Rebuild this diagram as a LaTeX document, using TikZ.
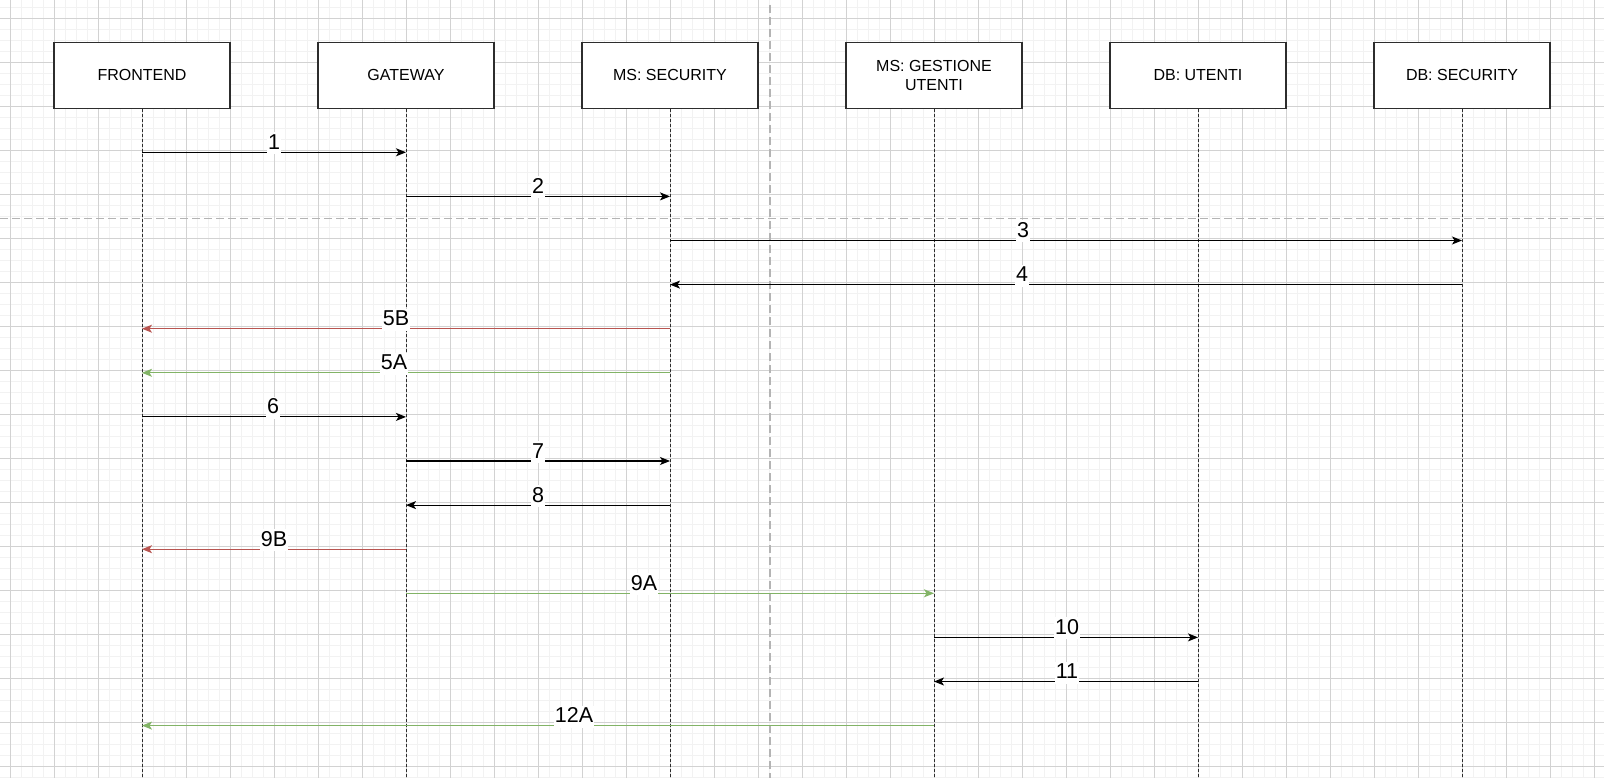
\documentclass[tikz,border=0pt]{standalone}
\usepackage{fontspec}
\setmainfont{Liberation Sans}
\usetikzlibrary{arrows.meta}
\definecolor{gmin}{RGB}{242,242,242}
\definecolor{gmaj}{RGB}{210,210,210}
\definecolor{sepc}{RGB}{180,180,180}
\definecolor{redl}{RGB}{184,84,80}
\definecolor{greenl}{RGB}{130,179,102}
\definecolor{boxl}{RGB}{45,45,45}
\begin{document}
\begin{tikzpicture}[x=1pt,y=-1pt,
  actor/.style={draw=boxl, line width=1.2pt, fill=white, minimum width=176pt, minimum height=66pt, inner sep=0pt, align=center, font=\fontsize{16}{18.4}\selectfont},
  life/.style={draw=boxl, line width=1pt, dash pattern=on 3pt off 2pt},
  msgarrow/.style={line width=1.1pt, -{Stealth[length=10pt,width=8pt,inset=2.5pt]}},
  lbl/.style={fill=white, inner xsep=1pt, inner ysep=0pt, text height=17pt, text depth=5pt, anchor=base, font=\fontsize{21.5}{24}\selectfont},
  sepline/.style={draw=sepc, line width=1.5pt, dash pattern=on 8pt off 4pt},
]
\fill[white] (0,0) rectangle (1604,778);
\useasboundingbox (0,0) rectangle (1604,778);
\begin{scope}
\clip (0,0) rectangle (1604,778);
\foreach \i in {0,...,146} \draw[gmin, line width=1pt] ({-1+11*\i},0) -- ++(0,778);
\foreach \i in {0,...,70} \draw[gmin, line width=1pt] (0,{7.3+11*\i}) -- ++(1604,0);
\foreach \i in {0,...,36} \draw[gmaj, line width=1pt] ({10+44*\i},0) -- ++(0,778);
\foreach \i in {0,...,17} \draw[gmaj, line width=1pt] (0,{18.3+44*\i}) -- ++(1604,0);
\end{scope}
% separators
\coordinate (sv1) at (770,5);
\coordinate (sv2) at (770,778);
\coordinate (sh1) at (0,218.5);
\coordinate (sh2) at (1604,218.5);
\draw[sepline] (sv1) -- (sv2);
\draw[sepline] (sh1) -- (sh2);
% actors
\node[actor] (fe)  at (142,75.3)  {FRONTEND};
\node[actor] (gw)  at (406,75.3)  {GATEWAY};
\node[actor] (sec) at (670,75.3)  {MS: SECURITY};
\node[actor] (gu)  at (934,75.3)  {MS: GESTIONE\\UTENTI};
\node[actor] (dbu) at (1198,75.3) {DB: UTENTI};
\node[actor] (dbs) at (1462,75.3) {DB: SECURITY};
% lifelines
\foreach \n/\x in {fe/142,gw/406,sec/670,gu/934,dbu/1198,dbs/1462}{
  \coordinate (\n-end) at (\x,778);
  \draw[life] (\n.south) -- (\n-end);
  \foreach \r in {1,...,14} \coordinate (\n-\r) at (\x,{152.3+44.1*(\r-1)});
}
% messages
\draw[msgarrow] (fe-1) -- (gw-1);
\draw[msgarrow] (gw-2) -- (sec-2);
\draw[msgarrow] (sec-3) -- (dbs-3);
\draw[msgarrow] (dbs-4) -- (sec-4);
\draw[msgarrow, redl] (sec-5) -- (fe-5);
\draw[msgarrow, greenl] (sec-6) -- (fe-6);
\draw[msgarrow] (fe-7) -- (gw-7);
\draw[msgarrow] (gw-8) -- (sec-8);
\draw[msgarrow] (sec-9) -- (gw-9);
\draw[msgarrow, redl] (gw-10) -- (fe-10);
\draw[msgarrow, greenl] (gw-11) -- (gu-11);
\draw[msgarrow] (gu-12) -- (dbu-12);
\draw[msgarrow] (dbu-13) -- (gu-13);
\draw[msgarrow, greenl] (gu-14) -- (fe-14);
% labels
\node[lbl] (l1)   at (274,149.3)  {1};
\node[lbl] (l2)   at (538,193.4)  {2};
\node[lbl] (l3)   at (1023,237.5) {3};
\node[lbl] (l4)   at (1022,281.6) {4};
\node[lbl] (l5b)  at (396,325.7)  {5B};
\node[lbl] (l5a)  at (394,369.8)  {5A};
\node[lbl] (l6)   at (273,413.9)  {6};
\node[lbl] (l7)   at (538,458.0)  {7};
\node[lbl] (l8)   at (538,502.1)  {8};
\node[lbl] (l9b)  at (274,546.2)  {9B};
\node[lbl] (l9a)  at (644,590.3)  {9A};
\node[lbl] (l10)  at (1067,634.4) {10};
\node[lbl] (l11)  at (1067,678.5) {11};
\node[lbl] (l12a) at (574,722.6)  {12A};
\end{tikzpicture}
\end{document}
